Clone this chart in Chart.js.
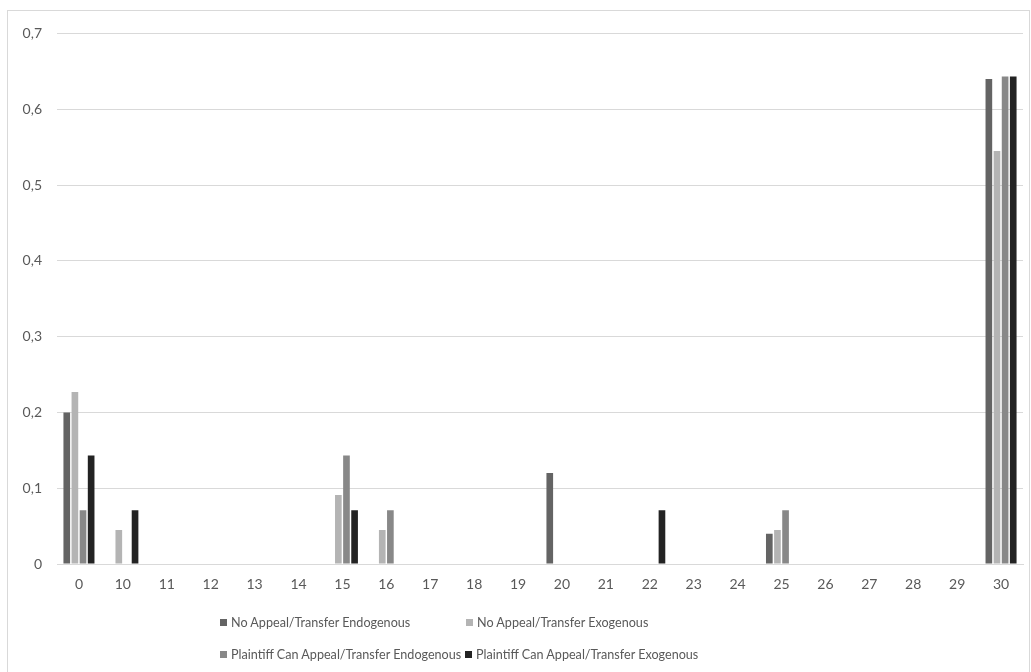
<!DOCTYPE html>
<html>
<head>
<meta charset="utf-8">
<script src="https://cdn.jsdelivr.net/npm/chart.js@4.4.1/dist/chart.umd.min.js"></script>
<style>
  html, body { margin: 0; padding: 0; background: #fff; }
  body { width: 1031px; height: 672px; position: relative; overflow: hidden; font-family: Lato, "Liberation Sans", Arial, sans-serif; }
  #frame { position: absolute; left: 7px; top: 10px; width: 1023px; height: 680px; border: 1px solid #d9d9d9; box-sizing: border-box; }
  #wrap { position: absolute; left: 8px; top: 10px; width: 1021px; height: 590px; }
  #legend { position: absolute; left: 0; top: 0; width: 1031px; height: 672px; pointer-events: none; }
  .item { position: absolute; font-size: 12.6px; color: #595959; white-space: nowrap; line-height: 16px; }
  .item span.box { display: inline-block; width: 7px; height: 7px; margin-right: 4px; vertical-align: 1px; }
</style>
</head>
<body>
<div id="frame"></div>
<div id="wrap"><canvas id="chart"></canvas></div>
<div id="legend"></div>
<script>
// categories on the x axis
const categories = ['0', '10', '11', '12', '13', '14', '15', '16', '17', '18', '19', '20', '21', '22', '23', '24', '25', '26', '27', '28', '29', '30'];

const seriesNames = [
  'No Appeal/Transfer Endogenous',
  'No Appeal/Transfer Exogenous',
  'Plaintiff Can Appeal/Transfer Endogenous',
  'Plaintiff Can Appeal/Transfer Exogenous'
];

// values (0 = no bar)
const noAppealEndo  = [0.2,   0,     0, 0, 0, 0, 0,     0,     0, 0, 0, 0.12, 0, 0,     0, 0, 0.04,  0, 0, 0, 0, 0.64];
const noAppealExo   = [0.227, 0.045, 0, 0, 0, 0, 0.091, 0.045, 0, 0, 0, 0,    0, 0,     0, 0, 0.045, 0, 0, 0, 0, 0.545];
const plaintiffEndo = [0.071, 0,     0, 0, 0, 0, 0.143, 0.071, 0, 0, 0, 0,    0, 0,     0, 0, 0.071, 0, 0, 0, 0, 0.643];
const plaintiffExo  = [0.143, 0.071, 0, 0, 0, 0, 0.071, 0,     0, 0, 0, 0,    0, 0.071, 0, 0, 0,     0, 0, 0, 0, 0.643];

const yTicks = [0, 0.1, 0.2, 0.3, 0.4, 0.5, 0.6, 0.7];

const colors = ['#646464', '#b4b4b4', '#888888', '#232323'];
const allValues = [noAppealEndo, noAppealExo, plaintiffEndo, plaintiffExo];

const datasets = allValues.map((vals, i) => ({
  label: seriesNames[i],
  data: vals,
  backgroundColor: colors[i],
  borderWidth: 0,
  categoryPercentage: 0.74,
  barPercentage: 0.82
}));

const font = { family: 'Lato, "Liberation Sans", Arial, sans-serif', size: 14 };

const chart = new Chart(document.getElementById('chart'), {
  type: 'bar',
  data: { labels: categories, datasets: datasets },
  options: {
    responsive: true,
    maintainAspectRatio: false,
    animation: false,
    layout: { padding: { top: 22, right: 6, left: 0, bottom: 0 } },
    plugins: {
      legend: { display: false },
      tooltip: { enabled: false }
    },
    scales: {
      x: {
        grid: { display: false, drawTicks: false },
        border: { color: '#d9d9d9', width: 1 },
        ticks: { color: '#595959', font: font, padding: 12, maxRotation: 0, autoSkip: false },
        afterFit: (s) => { s.height = 36; }
      },
      y: {
        min: 0,
        max: 0.7,
        grid: { color: '#d9d9d9', drawTicks: false },
        border: { display: false },
        afterBuildTicks: (s) => { s.ticks = yTicks.map(v => ({ value: v })); },
        ticks: {
          color: '#595959',
          font: font,
          padding: 15,
          callback: (v) => v === 0 ? '0' : v.toFixed(1).replace('.', ',')
        },
        afterFit: (s) => { s.width = 49; }
      }
    }
  }
});

// legend laid out in two aligned columns, like the original
const legendPos = [[220, 615], [466, 615], [220, 647], [465, 647]];
const legendEl = document.getElementById('legend');
seriesNames.forEach((name, i) => {
  const d = document.createElement('div');
  d.className = 'item';
  d.style.left = legendPos[i][0] + 'px';
  d.style.top = legendPos[i][1] + 'px';
  d.innerHTML = '<span class="box" style="background:' + colors[i] + '"></span>' + name;
  legendEl.appendChild(d);
});
</script>
</body>
</html>
